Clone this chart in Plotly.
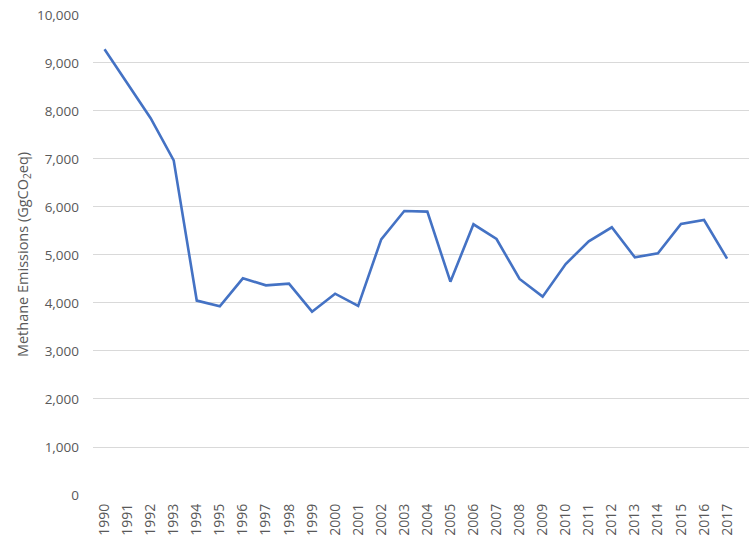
import plotly.graph_objects as go

years = list(range(1990, 2018))
emissions = [9285, 8580, 7850, 6970, 4050, 3930, 4514, 4368, 4403, 3819,
             4194, 3938, 5326, 5917, 5903, 4444, 5639, 5333, 4500, 4132,
             4812, 5285, 5576, 4951, 5035, 5646, 5729, 4924]
y_ticks = list(range(0, 10001, 1000))
y_tick_labels = [f"{v:,}" for v in y_ticks]

fig = go.Figure()
fig.add_trace(go.Scatter(x=years, y=emissions, mode="lines",
                         line=dict(color="#4472C4", width=2.6),
                         showlegend=False))

fig.update_layout(
    width=750, height=544,
    margin=dict(l=93, r=1, t=14, b=49, autoexpand=False),
    paper_bgcolor="white", plot_bgcolor="white",
    font=dict(family="Open Sans, Liberation Sans, sans-serif", color="#595959", size=13),
)
fig.update_xaxes(
    range=[1989.5, 2017.95], tickmode="array", tickvals=years,
    ticktext=[str(y) for y in years], tickangle=-90,
    showgrid=False, zeroline=False, showline=False,
    tickfont=dict(size=14), ticks="", automargin=False, ticklabelstandoff=5,
)
fig.update_yaxes(
    range=[0, 10020], tickmode="array", tickvals=y_ticks, ticktext=y_tick_labels,
    showgrid=True, gridcolor="#d9d9d9", gridwidth=1, zeroline=False,
    showline=False, ticks="", ticklabelstandoff=13, automargin=False,
    title=dict(text="Methane Emissions (GgCO<sub>2</sub>eq)", font=dict(size=14.5), standoff=4),
    tickfont=dict(size=13.5),
)
fig.write_html("out.html", post_script="document.body.style.margin='0';",
               config={"displayModeBar": False})
